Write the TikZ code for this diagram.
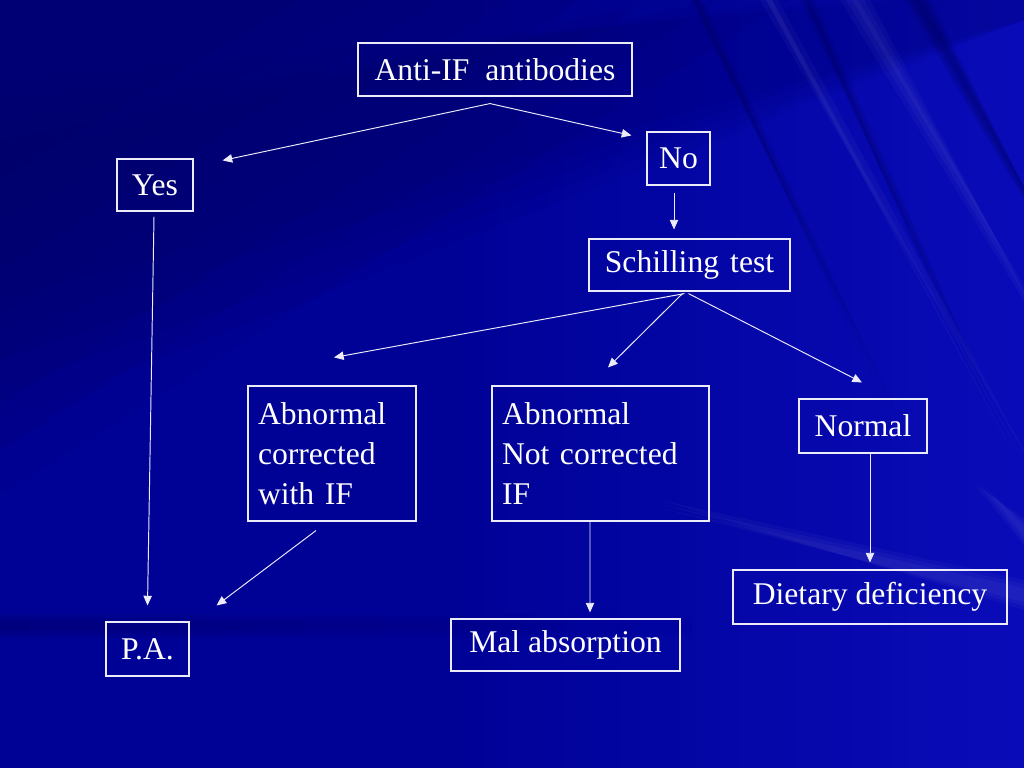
\documentclass[tikz,border=0pt]{standalone}
\usepackage{fontspec}
\setmainfont{Liberation Serif}
\usetikzlibrary{calc,arrows.meta,fadings}
\definecolor{bgdark}{RGB}{0,0,92}
\definecolor{bgbase}{RGB}{0,2,150}
\definecolor{bglight}{RGB}{10,12,185}
\definecolor{linecol}{RGB}{235,235,250}
\tikzset{
  box/.style={draw=linecol, line width=0.65pt, text=white, inner sep=0pt,
    font=\fontsize{18}{22.7}\selectfont, anchor=center},
  mbox/.style={box, align=left, inner xsep=0.2cm},
  arr/.style={draw=linecol, line width=0.55pt, -{Triangle[length=5.5pt,width=4.8pt]}},
  lray/.style={fill=white, fill opacity=0.03},
  dray/.style={fill=bgdark, fill opacity=0.18}
}
\begin{document}
\begin{tikzpicture}[x=0.02cm,y=-0.02cm]
\useasboundingbox (0,0) rectangle (1024,768);
% background
\fill[bgbase] (0,0) rectangle (1024,768);
\begin{scope}
\clip (0,0) rectangle (1024,768);
\fill[bglight, path fading=west] (450,0) rectangle (1024,768);
\foreach \k in {0,...,7}{
  \fill[bgdark, opacity=0.085] (0,0) -- ({300+70*\k},0) -- (0,{180+45*\k}) -- cycle;
}
\foreach \k in {0,...,4}{
  \fill[bgdark, opacity=0.06] (0,{80+20*\k}) -- ({900-60*\k},0) -- (1024,0) -- (1024,20) -- (0,{420-30*\k}) -- cycle;
}
% top-right streaks (tapering)
\foreach \d in {0,4,8}{
  \fill[dray] ({800+\d},0) -- ({814-\d},0) -- ({990-\d},400) -- cycle;
  \fill[dray] ({905+\d},0) -- ({930-\d},0) -- (1060,{260-\d}) -- cycle;
  \fill[dray] ({690+\d},0) -- ({702-\d},0) -- ({900-\d},420) -- cycle;
}
\foreach \d in {0,6,12}{
  \fill[lray] ({840+\d},0) -- ({870-\d},0) -- (1060,{360-\d}) -- cycle;
  \fill[lray] ({760+\d},0) -- ({778-\d},0) -- ({1040-\d},480) -- cycle;
}
% lower-right faint streaks
\foreach \d in {0,4,8}{
  \fill[lray] (660,{500+\d}) -- (1024,{580+\d}) -- (1024,{610-\d}) -- cycle;
  \fill[lray] ({975+\d},485) -- (1024,{518+\d}) -- (1024,{545-\d}) -- cycle;
}
% dark horizontal band at left
\foreach \d in {0,4,8}{
  \fill[bgdark, opacity=0.15, path fading=east] (0,{614+\d}) rectangle (700,{638-\d});
}
\end{scope}
% nodes
\node[box, minimum width=5.48cm, minimum height=1.06cm] (anti) at (495,69.5) {Anti-IF\hspace{0.5em}antibodies};
\node[box, minimum width=1.52cm, minimum height=1.04cm] (yes) at (155,185) {Yes};
\node[box, minimum width=1.26cm, minimum height=1.06cm] (no) at (678.5,158.5) {No};
\node[box, minimum width=4.02cm, minimum height=1.04cm] (schill) at (689.5,265) {Schilling\hspace{0.35em}test};
\node[mbox, text width=2.96cm, minimum height=2.70cm] (abc) at (332,453.5) {Abnormal\\corrected\\with IF};
\node[mbox, text width=3.94cm, minimum height=2.70cm] (anc) at (600.5,453.5) {Abnormal\\Not corrected\\IF};
\node[box, minimum width=2.56cm, minimum height=1.08cm] (normal) at (863,426) {Normal};
\node[box, minimum width=5.48cm, minimum height=1.08cm] (diet) at (870,597) {Dietary deficiency};
\node[box, minimum width=1.66cm, minimum height=1.08cm] (pa) at (147.5,649) {P.A.};
\node[box, minimum width=4.58cm, minimum height=1.04cm] (mal) at (565.5,645) {Mal absorption};
% connectors
\draw[arr] ($(anti.south)+(-5,7)$) -- ($(yes.north east)+(29,2)$);
\draw[arr] ($(anti.south)+(-5,7)$) -- ($(no.north west)+(-15,4)$);
\draw[arr] ($(no.south)+(-4.5,7)$) -- ($(schill.north)+(-15.5,-9)$);
\draw[arr] ($(schill.south)+(-5,2)$) -- ($(abc.north)+(2,-28)$);
\draw[arr] ($(schill.south)+(-7,2)$) -- ($(anc.north)+(7.5,-18)$);
\draw[arr] ($(schill.south)+(-1,2)$) -- ($(normal.north)+(-1,-16)$);
\draw[arr] ($(yes.south)+(-1,5)$) -- ($(pa.north)+(0,-16)$);
\draw[arr] ($(abc.south)+(-16,9)$) -- ($(pa.north east)+(27,-16)$);
\draw[arr] ($(anc.south)+(-10.5,0)$) -- ($(mal.north)+(24.5,-6)$);
\draw[arr] ($(normal.south)+(7,0)$) -- ($(diet.north)+(0,-7)$);
\end{tikzpicture}
\end{document}
